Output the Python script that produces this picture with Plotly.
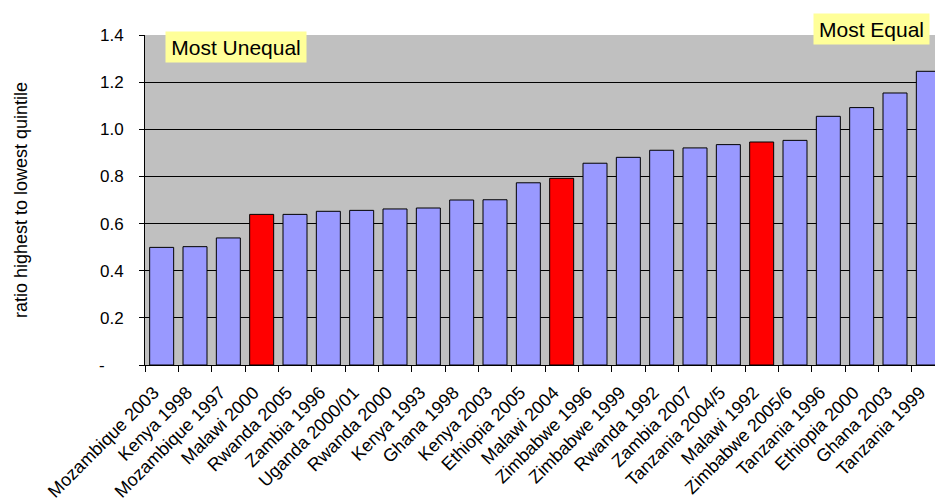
import plotly.graph_objects as go

# Survey rounds, sorted from most unequal to most equal
surveys = [
    "Mozambique 2003", "Kenya 1998", "Mozambique 1997", "Malawi 2000",
    "Rwanda 2005", "Zambia 1996", "Uganda 2000/01", "Rwanda 2000",
    "Kenya 1993", "Ghana 1998", "Kenya 2003", "Ethiopia 2005",
    "Malawi 2004", "Zimbabwe 1996", "Zimbabwe 1999", "Rwanda 1992",
    "Zambia 2007", "Tanzania 2004/5", "Malawi 1992", "Zimbabwe 2005/6",
    "Tanzania 1996", "Ethiopia 2000", "Ghana 2003", "Tanzania 1999",
]
ratios = [
    0.499, 0.502, 0.539, 0.639,
    0.639, 0.652, 0.656, 0.662,
    0.666, 0.700, 0.701, 0.773,
    0.792, 0.856, 0.881, 0.911,
    0.921, 0.935, 0.946, 0.953,
    1.055, 1.092, 1.154, 1.246,
]
highlighted = ["Malawi 2000", "Malawi 2004", "Malawi 1992"]

y_tick_values = [0, 0.2, 0.4, 0.6, 0.8, 1.0, 1.2, 1.4]
y_tick_labels = ["-\u00a0\u00a0\u00a0\u00a0", "0.2", "0.4", "0.6", "0.8", "1.0", "1.2", "1.4"]

BASE = "#9999FF"
HIGHLIGHT = "#FF0000"
colors = [HIGHLIGHT if s in highlighted else BASE for s in surveys]

FONT = "Liberation Sans, Arial, sans-serif"

fig = go.Figure(
    go.Bar(
        x=surveys,
        y=ratios,
        marker=dict(color=colors, line=dict(color="black", width=1)),
        hoverinfo="x+y",
    )
)

fig.update_layout(
    width=935,
    height=501,
    margin=dict(l=145, r=0, t=35, b=136),
    paper_bgcolor="white",
    plot_bgcolor="#C0C0C0",
    bargap=0.28,
    showlegend=False,
    font=dict(family=FONT, color="black", size=17),
    xaxis=dict(
        type="category",
        range=[-0.5, 23.2],
        automargin=False,
        tickangle=-45,
        tickson="boundaries",
        ticks="outside",
        ticklen=6,
        tickcolor="black",
        showline=True,
        linecolor="black",
        linewidth=1,
        showgrid=False,
        ticklabelstandoff=9,
        ticklabelshift=-8,
        tickfont=dict(size=18, family=FONT, color="black"),
    ),
    yaxis=dict(
        range=[0, 1.4],
        automargin=False,
        tickvals=y_tick_values,
        ticktext=y_tick_labels,
        ticks="outside",
        ticklen=5,
        tickcolor="black",
        showline=True,
        linecolor="black",
        linewidth=1,
        showgrid=True,
        gridcolor="black",
        gridwidth=1,
        zeroline=False,
        ticklabelstandoff=12,
        tickfont=dict(size=17, family=FONT, color="black"),
        title=dict(
            text="ratio highest to lowest quintile",
            font=dict(size=18, family=FONT, color="black"),
            standoff=66,
        ),
    ),
    annotations=[
        dict(
            text="Most Unequal",
            xref="paper", yref="paper",
            x=0.0253, y=1.012,
            xanchor="left", yanchor="top",
            showarrow=False,
            bgcolor="#FFFF99",
            width=136, height=26, borderpad=2,
            font=dict(size=21, family=FONT, color="black"),
        ),
        dict(
            text="Most Equal",
            xref="paper", yref="paper",
            x=0.8456, y=1.0667,
            xanchor="left", yanchor="top",
            showarrow=False,
            bgcolor="#FFFF99",
            width=111, height=26, borderpad=2,
            font=dict(size=21, family=FONT, color="black"),
        ),
    ],
)

fig.write_html("out.html")
